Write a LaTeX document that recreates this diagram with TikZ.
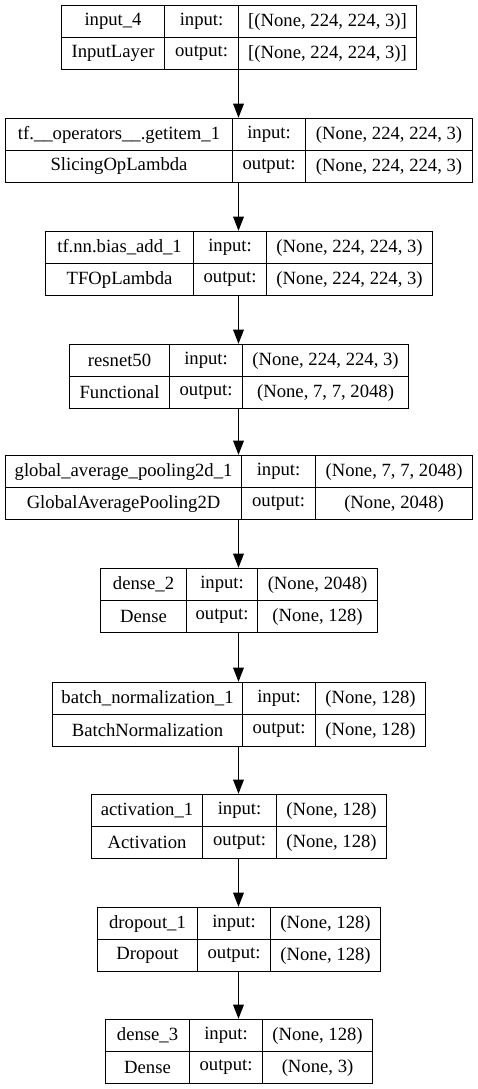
\documentclass[tikz,border=0pt]{standalone}
\usepackage{fontspec}
\setmainfont{Liberation Serif}
\usepackage{tikz}
\usetikzlibrary{arrows.meta,positioning}

% one keras layer: id, top, left, first divider, second divider, name, class, in, out
\newcommand{\kerasbox}[9]{%
  \node[frame,minimum width=(477-2*#3)*0.75pt] (#1) at (238.5,#2+32) {};
  \node[cell,minimum width=(#4-#3)*0.75pt] (#1n) at (#3,#2)    {#6};
  \node[cell,minimum width=(#4-#3)*0.75pt] (#1c) at (#3,#2+32) {#7};
  \node[cell,minimum width=(#5-#4)*0.75pt] (#1i) at (#4,#2)    {input:};
  \node[cell,minimum width=(#5-#4)*0.75pt] (#1o) at (#4,#2+32) {output:};
  \node[cell,minimum width=(477-#3-#5)*0.75pt] (#1s) at (#5,#2)    {#8};
  \node[cell,minimum width=(477-#3-#5)*0.75pt] (#1t) at (#5,#2+32) {#9};
}

\begin{document}
\begin{tikzpicture}[x=0.75pt,y=-0.75pt,
    font=\fontsize{14}{16}\selectfont,
    cell/.style={draw,line width=0.8pt,anchor=north west,inner sep=0pt,
                 minimum height=24pt,align=center},
    frame/.style={inner sep=0pt,minimum height=48pt},
    flow/.style={line width=0.8pt,-{Triangle[length=10.5pt,width=8pt]}}]
  \useasboundingbox (0,0) rectangle (478,1089);

  \kerasbox{l1}{5}{61}{164}{238}{input\_4}{InputLayer}{[(None, 224, 224, 3)]}{[(None, 224, 224, 3)]}
  \kerasbox{l2}{118}{5}{232}{305}{tf.\_\_operators\_\_.getitem\_1}{SlicingOpLambda}{(None, 224, 224, 3)}{(None, 224, 224, 3)}
  \kerasbox{l3}{231}{45}{193}{266}{tf.nn.bias\_add\_1}{TFOpLambda}{(None, 224, 224, 3)}{(None, 224, 224, 3)}
  \kerasbox{l4}{344}{69}{169}{242}{resnet50}{Functional}{(None, 224, 224, 3)}{(None, 7, 7, 2048)}
  \kerasbox{l5}{455}{5}{241}{315}{global\_average\_pooling2d\_1}{GlobalAveragePooling2D}{(None, 7, 7, 2048)}{(None, 2048)}
  \kerasbox{l6}{568}{100}{186}{257}{dense\_2}{Dense}{(None, 2048)}{(None, 128)}
  \kerasbox{l7}{682}{52}{242}{315}{batch\_normalization\_1}{BatchNormalization}{(None, 128)}{(None, 128)}
  \kerasbox{l8}{794}{91}{202}{276}{activation\_1}{Activation}{(None, 128)}{(None, 128)}
  \kerasbox{l9}{907}{97}{197}{270}{dropout\_1}{Dropout}{(None, 128)}{(None, 128)}
  \kerasbox{l10}{1019}{105}{189}{262}{dense\_3}{Dense}{(None, 128)}{(None, 3)}

  \foreach \a/\b in {l1/l2,l2/l3,l3/l4,l4/l5,l5/l6,l6/l7,l7/l8,l8/l9,l9/l10}
    \draw[flow] (\a.south) -- (\b.north);
\end{tikzpicture}
\end{document}
